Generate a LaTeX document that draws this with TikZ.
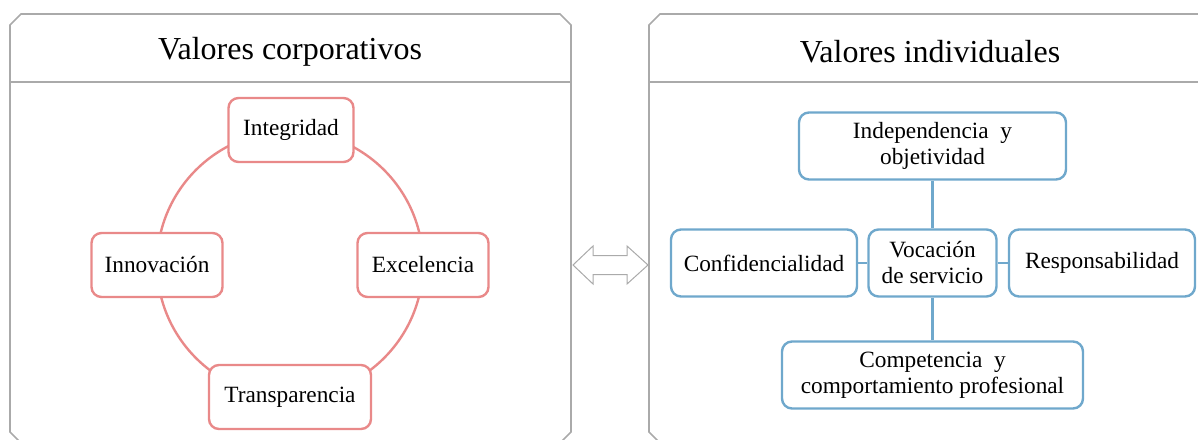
\documentclass[tikz,border=0pt]{standalone}
\usepackage{fontspec}
\setmainfont{Liberation Serif}
\definecolor{pinkline}{RGB}{233,137,137}
\definecolor{blueline}{RGB}{111,168,204}
\definecolor{panelgray}{RGB}{170,170,170}
\begin{document}
\begin{tikzpicture}[x=1pt,y=-1pt,
  panel/.style={draw=panelgray,line width=1.6pt},
  redbox/.style={draw=pinkline,line width=2.4pt,fill=white,rounded corners=10pt,
    minimum height=64pt,inner sep=0pt,align=center,font=\fontsize{23.3}{27}\selectfont},
  bluebox/.style={draw=blueline,line width=2.4pt,fill=white,rounded corners=10pt,
    minimum height=67pt,inner sep=0pt,align=center,font=\fontsize{23.3}{26}\selectfont},
  title/.style={font=\fontsize{32}{36}\selectfont,inner sep=0pt},
  redlink/.style={draw=pinkline,line width=2.4pt},
  bluelink/.style={draw=blueline,line width=2.4pt}]
\useasboundingbox (0,0) rectangle (1198,439);
\clip (0,0) rectangle (1198,439);
% panels
\draw[panel] (10,25) -- (21,14) -- (560,14) -- (571,25) -- (571,432) -- (560,443) -- (21,443) -- (10,432) -- cycle;
\draw[panel] (10,82) -- (571,82);
\draw[panel] (649,25) -- (660,14) -- (1215,14) -- (1215,450) -- (1215,443) -- (660,443) -- (649,432) -- cycle;
\draw[panel] (649,82) -- (1215,82);
\node[title] (t1) at (290,52) {Valores corporativos};
\node[title] (t2) at (930,52) {Valores individuales};
% double arrow
\draw[draw=panelgray,line width=1pt,fill=white] (573,265) -- (593,246) -- (593,255.5) -- (627,255.5) -- (627,246) -- (648,265)
  -- (627,284) -- (627,274.5) -- (593,274.5) -- (593,284) -- cycle;
% left cycle
\coordinate (cc) at (290,264);
\draw[redlink] (cc) circle[radius=133];
\node[redbox,minimum width=125pt] (integ) at (291,130) {Integridad};
\node[redbox,minimum width=131pt] (innov) at (157,265) {Innovación};
\node[redbox,minimum width=131pt] (excel) at (423,265) {Excelencia};
\node[redbox,minimum width=162pt] (transp) at (290,397) {Transparencia};
% right structure
\node[bluebox,minimum width=267pt] (indep) at (932.5,146) {Independencia\ \ y\\objetividad};
\node[bluebox,minimum width=186pt] (conf) at (764,263) {Confidencialidad};
\node[bluebox,minimum width=128pt] (voc) at (932.5,263) {Vocación\\de servicio};
\node[bluebox,minimum width=186pt] (resp) at (1102,263) {Responsabilidad};
\node[bluebox,minimum width=301pt] (comp) at (932.5,375) {Competencia\ \ y\\comportamiento profesional};
\draw[bluelink] (indep) -- (voc);
\draw[bluelink] (voc) -- (comp);
\draw[bluelink] (conf) -- (voc);
\draw[bluelink] (voc) -- (resp);
\end{tikzpicture}
\end{document}
